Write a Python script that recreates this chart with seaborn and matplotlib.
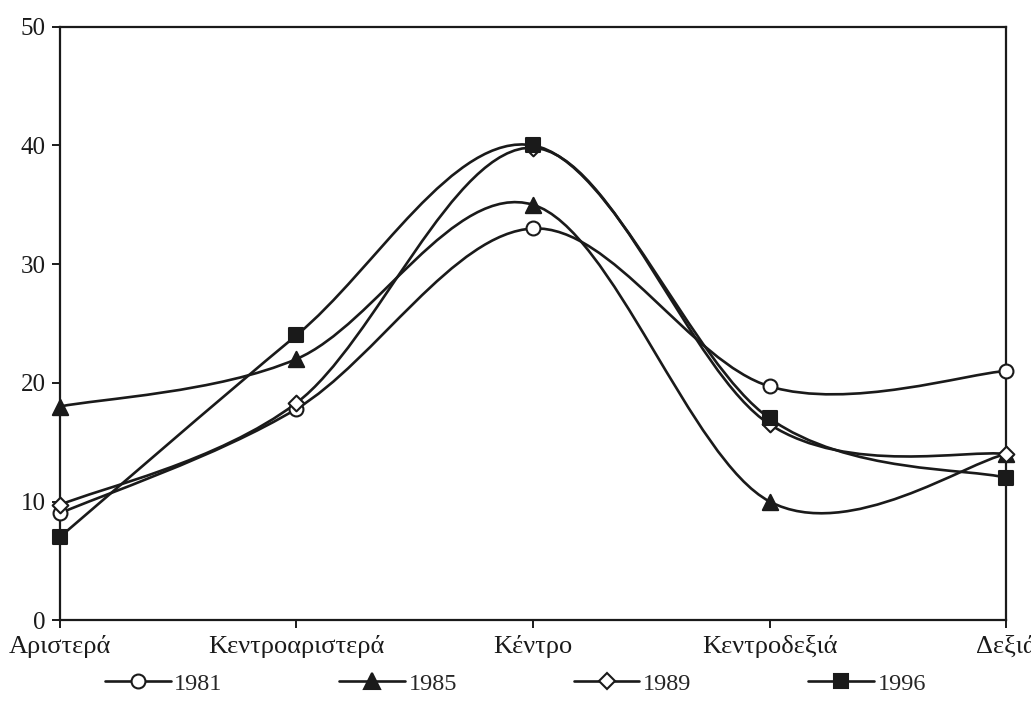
import matplotlib
matplotlib.use("Agg")
import matplotlib.pyplot as plt
from matplotlib.path import Path
from matplotlib.patches import PathPatch
from matplotlib.lines import Line2D
import seaborn as sns
import numpy as np
import pandas as pd

categories = ["Αριστερά", "Κεντροαριστερά", "Κέντρο", "Κεντροδεξιά", "Δεξιά"]
years = ["1981", "1985", "1989", "1996"]
v1981 = [9.0, 17.8, 33.0, 19.7, 21.0]
v1985 = [18.0, 22.0, 35.0, 10.0, 14.0]
v1989 = [9.7, 18.3, 39.8, 16.5, 14.0]
v1996 = [7.0, 24.0, 40.0, 17.0, 12.0]

sns.set_theme(style="white")
plt.rcParams["font.family"] = ["Liberation Serif", "DejaVu Serif"]

df = pd.DataFrame({
    "pos": list(range(len(categories))) * 4,
    "value": v1981 + v1985 + v1989 + v1996,
    "year": [y for y in years for _ in categories],
})

styles = {
    "1981": dict(marker="o", mfc="white", ms=10),
    "1985": dict(marker="^", mfc="#1a1a1a", ms=11),
    "1989": dict(marker="D", mfc="white", ms=8),
    "1996": dict(marker="s", mfc="#1a1a1a", ms=10),
}
ink = "#1a1a1a"


def smooth_path(xs, ys):
    # Excel-like smoothed line: Catmull-Rom converted to cubic Bezier
    pts = np.column_stack([xs, ys]).astype(float)
    n = len(pts)
    verts = [pts[0]]
    codes = [Path.MOVETO]
    for i in range(n - 1):
        p0 = pts[i - 1] if i > 0 else pts[i]
        p1 = pts[i]
        p2 = pts[i + 1]
        p3 = pts[i + 2] if i + 2 < n else pts[i + 1]
        c1 = p1 + (p2 - p0) / 6.0
        c2 = p2 - (p3 - p1) / 6.0
        verts += [c1, c2, p2]
        codes += [Path.CURVE4] * 3
    return Path(verts, codes)


fig = plt.figure(figsize=(10.31, 7.22), dpi=100)
ax = fig.add_axes([0.058, 0.141, 0.918, 0.822])

for y in years:
    sub = df[df["year"] == y]
    ax.add_patch(PathPatch(smooth_path(sub["pos"], sub["value"]), fill=False,
                           edgecolor=ink, lw=1.9, zorder=2))

for y in years:
    sub = df[df["year"] == y]
    st = styles[y]
    sns.scatterplot(x=sub["pos"], y=sub["value"], marker=st["marker"], s=st["ms"] ** 2,
                    color=st["mfc"], edgecolor=ink, linewidth=1.5, ax=ax, zorder=3,
                    clip_on=False)

ax.set_xlim(0, len(categories) - 1)
ax.set_ylim(0, 50)
ax.set_xticks(range(len(categories)))
ax.set_xticklabels(categories, fontsize=19)
ax.set_yticks(range(0, 51, 10))
ax.set_xlabel("")
ax.set_ylabel("")
for s in ax.spines.values():
    s.set_color(ink)
    s.set_linewidth(1.6)
ax.tick_params(axis="both", which="both", direction="out", length=6, width=1.4,
               colors=ink, bottom=True, left=True)
ax.tick_params(axis="x", pad=5)
ax.tick_params(axis="y", pad=4, labelsize=18)

handles = [Line2D([], [], color=ink, lw=1.9, marker=styles[y]["marker"],
                  markerfacecolor=styles[y]["mfc"], markeredgecolor=ink,
                  markeredgewidth=1.5, markersize=styles[y]["ms"]) for y in years]
fig.legend(handles, years, loc="center", bbox_to_anchor=(0.5, 0.053), ncol=4,
           frameon=False, fontsize=17.5, handlelength=2.7, handletextpad=0.15,
           columnspacing=4.8, borderpad=0)

fig.savefig("out.png", dpi=100)
